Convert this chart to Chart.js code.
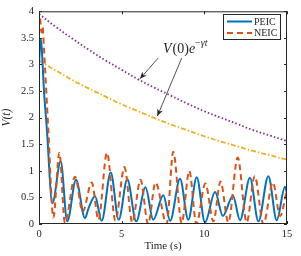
<!DOCTYPE html>
<html>
<head>
<meta charset="utf-8">
<script src="https://cdn.jsdelivr.net/npm/chart.js@4"></script>
<style>
  html, body { margin: 0; padding: 0; background: #fff; }
  canvas { display: block; }
</style>
</head>
<body>
<canvas id="grafico" width="301" height="256"></canvas>
<script>
// Dados
const peicT = [0, 0.1, 0.32, 0.46, 0.81, 1.31, 1.71, 2.24, 2.78, 3.0, 3.39, 3.79, 4.34, 4.82, 5.34, 5.88, 6.44, 6.91, 7.52, 7.93, 8.53, 9.03, 9.54, 10.04, 10.65, 11.12, 11.73, 12.16, 12.76, 13.27, 13.87, 14.38, 14.88, 15];
const peicV = [3.0, 3.48, 2.41, 1.85, 0.39, 1.18, 0.05, 0.83, 0.11, 0.30, 0.52, 0.06, 0.97, 0.08, 0.84, 0.05, 0.69, 0.08, 0.54, 0.06, 0.85, 0.08, 0.88, 0.03, 0.60, 0.15, 0.53, 0.07, 0.87, 0.05, 0.90, 0.07, 0.70, 0.58];

const neicT = [0, 0.05, 0.15, 0.22, 0.3, 0.56, 0.87, 1.23, 1.57, 2.18, 2.64, 3.19, 3.6, 4.11, 4.62, 5.17, 5.64, 6.14, 6.6, 7.05, 7.72, 8.12, 8.63, 9.09, 9.52, 10.06, 10.55, 10.98, 11.45, 12.02, 12.56, 13.05, 13.57, 14.15, 14.58, 15];
const neicV = [3.75, 3.9, 3.6, 3.7, 3.3, 1.8, 0.12, 1.34, 0.02, 0.89, 0.23, 0.78, 0.08, 1.34, 0.06, 1.07, 0.03, 0.83, 0.0, 0.78, 0.0, 1.36, 0.02, 1.0, 0.0, 0.76, 0.05, 0.8, 0.03, 1.25, 0.03, 0.9, 0.0, 0.78, 0.15, 0.65];

// Envelopes V(0)e^{-yt}
const envT = [0, 1, 2, 3, 4, 5, 6, 7, 8, 9, 10, 11, 12, 13, 14, 15];
const envSup = [3.95, 3.71, 3.49, 3.28, 3.08, 2.90, 2.72, 2.56, 2.41, 2.26, 2.12, 2.00, 1.88, 1.76, 1.66, 1.56];
const envInf = [3.07, 2.89, 2.71, 2.55, 2.40, 2.25, 2.12, 1.99, 1.87, 1.76, 1.65, 1.55, 1.46, 1.37, 1.29, 1.21];

// Ticks
const xTicks = [0, 5, 10, 15];
const yTicks = [0, 0.5, 1, 1.5, 2, 2.5, 3, 3.5, 4];

const serif = "'Liberation Serif', 'DejaVu Serif', serif";
const corTexto = '#262626';

function pares(ts, vs) {
    return ts.map((t, i) => ({ x: t, y: vs[i] }));
}

// Moldura e ticks para dentro (estilo MATLAB)
const moldura = {
    id: 'moldura',
    afterDatasetsDraw(chart) {
        const ctx = chart.ctx;
        const a = chart.chartArea;
        const xs = chart.scales.x, ys = chart.scales.y;
        ctx.save();
        ctx.strokeStyle = '#262626';
        ctx.lineWidth = 1;
        ctx.strokeRect(a.left + 0.5, a.top + 0.5, a.right - a.left - 1, a.bottom - a.top - 1);
        ctx.beginPath();
        xTicks.forEach(v => {
            const px = Math.round(xs.getPixelForValue(v)) + 0.5;
            ctx.moveTo(px, a.bottom); ctx.lineTo(px, a.bottom - 3);
            ctx.moveTo(px, a.top); ctx.lineTo(px, a.top + 3);
        });
        yTicks.forEach(v => {
            const py = Math.round(ys.getPixelForValue(v)) + 0.5;
            ctx.moveTo(a.left, py); ctx.lineTo(a.left + 3, py);
            ctx.moveTo(a.right, py); ctx.lineTo(a.right - 3, py);
        });
        ctx.stroke();
        ctx.restore();
    },
    afterDraw(chart) {
        const ctx = chart.ctx;
        const xs = chart.scales.x, ys = chart.scales.y;
        ctx.save();

        // Legenda
        const bx = 223, by = 14, bw = 57, bh = 25;
        ctx.fillStyle = '#fff';
        ctx.fillRect(bx, by, bw, bh);
        ctx.strokeStyle = '#262626';
        ctx.lineWidth = 1;
        ctx.strokeRect(bx + 0.5, by + 0.5, bw, bh);
        const itens = [
            { txt: 'PEIC', cor: '#0072BD', dash: [] },
            { txt: 'NEIC', cor: '#D95319', dash: [6, 4] }
        ];
        itens.forEach((it, i) => {
            const y = by + 7.5 + i * 11.5;
            ctx.beginPath();
            ctx.setLineDash(it.dash);
            ctx.strokeStyle = it.cor;
            ctx.lineWidth = 2;
            ctx.moveTo(bx + 4, y); ctx.lineTo(bx + 29, y);
            ctx.stroke();
            ctx.setLineDash([]);
            ctx.fillStyle = corTexto;
            ctx.font = '10px ' + serif;
            ctx.textBaseline = 'middle';
            ctx.fillText(it.txt, bx + 31, y + 0.5);
        });

        // Anotacao V(0)e^{-yt}
        const tx = xs.getPixelForValue(7.5), ty = ys.getPixelForValue(3.21);
        ctx.textBaseline = 'alphabetic';
        ctx.fillStyle = corTexto;
        let x = tx;
        const partes = [
            ['italic 14px ' + serif, 'V', 0],
            ['14px ' + serif, '(0)', 0],
            ['italic 14px ' + serif, 'e', 0],
            ['10px ' + serif, '\u2212', -7],
            ['italic 10px ' + serif, '\u03b3t', -7]
        ];
        partes.forEach(p => {
            ctx.font = p[0];
            ctx.fillText(p[1], x, ty + p[2]);
            x += ctx.measureText(p[1]).width + (p[1] === 'V' ? 1 : 0);
        });

        // Setas
        const setas = [
            [7.2, 3.12, 6.11, 2.73],
            [8.63, 3.12, 7.16, 2.03]
        ];
        setas.forEach(s => {
            const x0 = xs.getPixelForValue(s[0]), y0 = ys.getPixelForValue(s[1]);
            const x1 = xs.getPixelForValue(s[2]), y1 = ys.getPixelForValue(s[3]);
            const ang = Math.atan2(y1 - y0, x1 - x0);
            ctx.strokeStyle = '#262626';
            ctx.fillStyle = '#262626';
            ctx.lineWidth = 0.8;
            ctx.beginPath();
            ctx.moveTo(x0, y0); ctx.lineTo(x1, y1);
            ctx.stroke();
            const L = 7, W = 3;
            ctx.beginPath();
            ctx.moveTo(x1, y1);
            ctx.lineTo(x1 - L * Math.cos(ang) + W * Math.sin(ang), y1 - L * Math.sin(ang) - W * Math.cos(ang));
            ctx.lineTo(x1 - L * 0.7 * Math.cos(ang), y1 - L * 0.7 * Math.sin(ang));
            ctx.lineTo(x1 - L * Math.cos(ang) - W * Math.sin(ang), y1 - L * Math.sin(ang) + W * Math.cos(ang));
            ctx.closePath();
            ctx.fill();
        });

        ctx.restore();
    }
};

window.addEventListener('load', function() {
    const ctx = document.getElementById('grafico');

    new Chart(ctx, {
        type: 'line',
        data: {
            datasets: [
                {
                    label: 'NEIC',
                    data: pares(neicT, neicV),
                    borderColor: '#D95319',
                    borderWidth: 2,
                    borderDash: [6, 4],
                    pointRadius: 0,
                    cubicInterpolationMode: 'monotone',
                    order: 0
                },
                {
                    label: 'PEIC',
                    data: pares(peicT, peicV),
                    borderColor: '#0072BD',
                    borderWidth: 2,
                    pointRadius: 0,
                    cubicInterpolationMode: 'monotone',
                    order: 1
                },
                {
                    label: 'sup',
                    data: pares(envT, envSup),
                    borderColor: '#7E2F8E',
                    borderWidth: 1.8,
                    borderDash: [1.5, 2.2],
                    pointRadius: 0,
                    tension: 0.4,
                    order: 2
                },
                {
                    label: 'inf',
                    data: pares(envT, envInf),
                    borderColor: '#EDB120',
                    borderWidth: 1.8,
                    borderDash: [5, 2, 1.5, 2],
                    pointRadius: 0,
                    tension: 0.4,
                    order: 3
                }
            ]
        },
        options: {
            responsive: false,
            animation: false,
            devicePixelRatio: 1,
            layout: {
                padding: { top: 7, right: 14, left: 0, bottom: 0 }
            },
            plugins: {
                legend: { display: false },
                tooltip: { enabled: false }
            },
            scales: {
                x: {
                    type: 'linear',
                    min: 0,
                    max: 15,
                    afterBuildTicks: s => { s.ticks = xTicks.map(v => ({ value: v })); },
                    afterFit: s => { s.height = 32; },
                    grid: { display: false, drawTicks: false },
                    border: { display: false },
                    ticks: {
                        padding: 4,
                        color: corTexto,
                        font: { family: serif, size: 10.5 },
                        maxRotation: 0,
                        callback: v => String(v)
                    },
                    title: {
                        display: true,
                        text: 'Time (s)',
                        color: corTexto,
                        font: { family: serif, size: 11 },
                        padding: { top: 0, bottom: 3 }
                    }
                },
                y: {
                    min: 0,
                    max: 4,
                    afterBuildTicks: s => { s.ticks = yTicks.map(v => ({ value: v })); },
                    afterFit: s => { s.width = 39; },
                    grid: { display: false, drawTicks: false },
                    border: { display: false },
                    ticks: {
                        padding: 5,
                        color: corTexto,
                        font: { family: serif, size: 10.5 },
                        callback: v => String(v)
                    },
                    title: {
                        display: true,
                        text: 'V(t)',
                        color: corTexto,
                        font: { family: serif, size: 11.5, style: 'italic' },
                        padding: { top: 0, bottom: 0 }
                    }
                }
            }
        },
        plugins: [moldura]
    });
}, false);
</script>
</body>
</html>
